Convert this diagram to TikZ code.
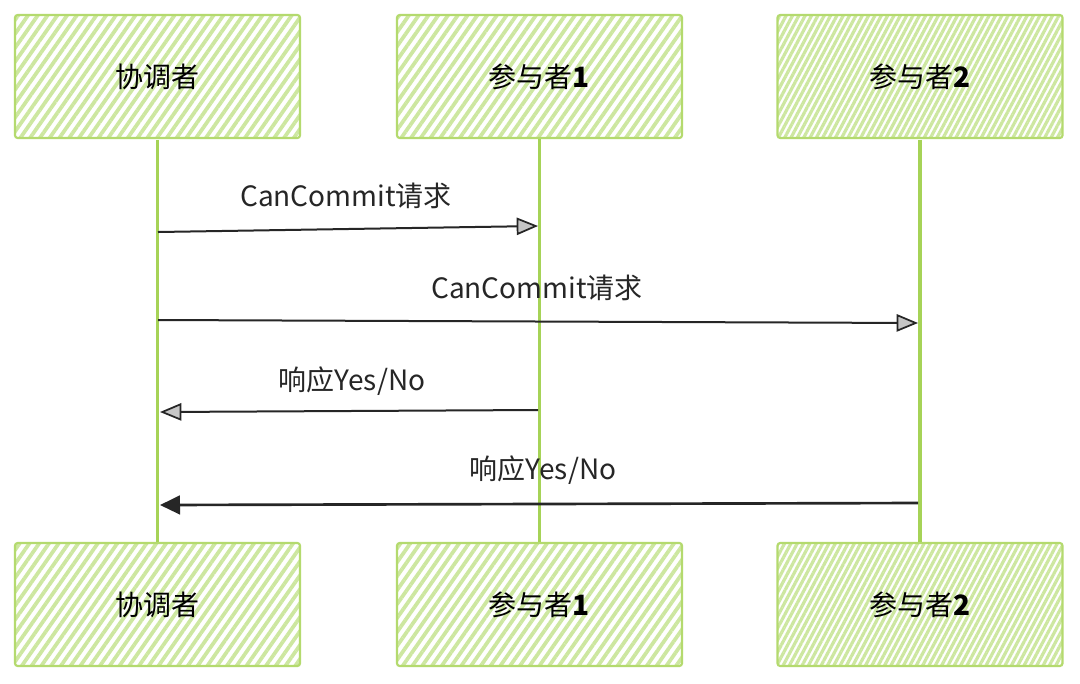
\documentclass[tikz,border=0pt]{standalone}
\usepackage{fontspec}
\setmainfont{Noto Sans CJK SC}
\usetikzlibrary{arrows.meta,patterns.meta}
\definecolor{hatch}{HTML}{CDE7A0}
\definecolor{boxline}{HTML}{B4DA6E}
\definecolor{life}{HTML}{A6D357}
\definecolor{ink}{HTML}{262626}
\tikzset{
  actor/.style={draw=boxline, line width=1.6pt, rounded corners=2pt,
    minimum width=213.75pt, minimum height=92.25pt, inner sep=0pt,
    font=\fontsize{21}{24}\selectfont, text=black,
    pattern={Lines[angle=55,distance=6pt,line width=2.8pt]}, pattern color=hatch},
  actordense/.style={actor, pattern={Lines[angle=62,distance=4.2pt,line width=2.4pt]}},
  lifeline/.style={draw=life, line width=2.3pt},
  msg/.style={draw=ink, line width=1.5pt},
  openhead/.style={-{Triangle[length=16pt,width=13pt,fill=gray!45,line width=1.3pt]}},
  solidhead/.style={-{Triangle[length=15pt,width=14pt]}},
  lbl/.style={font=\fontsize{21}{24}\selectfont, text=ink, inner sep=0pt}
}
\begin{document}
\begin{tikzpicture}[x=0.75pt,y=-0.75pt]
\useasboundingbox[fill=white] (0,0) rectangle (1080,683);
% top actors
\node[actor] (t1) at (157.5,76.5) {协调者};
\node[actor] (t2) at (539.5,76.5) {参与者\textbf{1}};
\node[actordense] (t3) at (920,76.5) {参与者\textbf{2}};
% bottom actors
\node[actor] (b1) at (157.5,604.5) {协调者};
\node[actor] (b2) at (539.5,604.5) {参与者\textbf{1}};
\node[actordense] (b3) at (920,604.5) {参与者\textbf{2}};
% lifelines
\draw[lifeline] (t1.south) -- (b1.north);
\draw[lifeline] (t2.south) -- (b2.north);
\draw[lifeline] (t3.south) -- (b3.north);
% message endpoints
\coordinate (m1s) at (158,232);
\coordinate (m1e) at (538,226);
\coordinate (m2s) at (158,320);
\coordinate (m2e) at (918,323);
\coordinate (m3s) at (538,410);
\coordinate (m3e) at (160,412);
\coordinate (m4s) at (918,503);
\coordinate (m4e) at (160,505);
% messages
\draw[msg,openhead] (m1s) -- (m1e);
\draw[msg,openhead] (m2s) -- (m2e);
\draw[msg,openhead] (m3s) -- (m3e);
\draw[msg,solidhead,line width=2pt] (m4s) -- (m4e);
% labels
\node[lbl] (l1) at (346,196) {CanCommit请求};
\node[lbl] (l2) at (537,288) {CanCommit请求};
\node[lbl] (l3) at (352,381) {响应Yes/No};
\node[lbl] (l4) at (543,470) {响应Yes/No};
\end{tikzpicture}
\end{document}
